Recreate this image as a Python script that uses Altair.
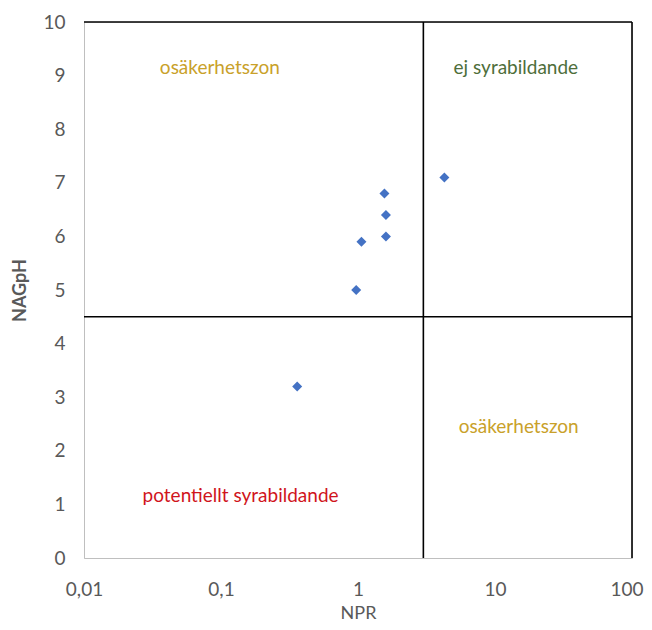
import altair as alt
import pandas as pd

# Data points
npr = [4.27, 1.56, 1.60, 1.60, 1.06, 0.97, 0.36]
nagph = [7.1, 6.8, 6.4, 6.0, 5.9, 5.0, 3.2]

# Dividing / frame lines
vline_x = [3, 100]
hline_y = [4.5, 10]

# Zone annotations
ann_text = ["osäkerhetszon", "ej syrabildande", "osäkerhetszon", "potentiellt syrabildande"]
ann_x = [0.098, 14.2, 14.9, 0.139]
ann_y = [9.14, 9.14, 2.45, 1.16]
ann_color = ["#C9A12A", "#4E6E3A", "#C9A12A", "#D0141C"]

x_ticks = [0.01, 0.1, 1, 10, 100]
y_ticks = list(range(0, 11))

FONT = "Lato"
GRAY = "#595959"

pts = pd.DataFrame({"NPR": npr, "NAGpH": nagph})
vl = pd.DataFrame({"x": vline_x, "y0": [0] * len(vline_x), "y1": [10] * len(vline_x)})
hl = pd.DataFrame({"y": hline_y, "x0": [0.01] * len(hline_y), "x1": [100] * len(hline_y)})
ann = pd.DataFrame({"t": ann_text, "x": ann_x, "y": ann_y, "c": ann_color})

xscale = alt.Scale(type="log", domain=[0.01, 100], nice=False)
yscale = alt.Scale(domain=[0, 10], nice=False)

xaxis = alt.Axis(
    values=x_ticks,
    labelExpr="datum.value < 1 ? replace(toString(datum.value), '.', ',') : toString(datum.value)",
    labelAlign=alt.ExprRef(expr="datum.value >= 100 ? 'right' : 'center'"),
    labelOffset=alt.ExprRef(expr="datum.value >= 100 ? 11 : 0"),
    labelFlush=False, labelOverlap=False, labelBound=False,
    grid=False, ticks=False, labelPadding=22,
    labelFontSize=19, labelColor=GRAY, labelFont=FONT,
    domainColor="#BFBFBF", domainWidth=1,
    title="NPR", titleFont=FONT, titleFontSize=18, titleColor=GRAY,
    titleFontWeight="normal", titleBaseline="middle", titleY=55,
)
yaxis = alt.Axis(
    values=y_ticks, grid=False, ticks=False, labelPadding=19,
    labelFontSize=19, labelColor=GRAY, labelFont=FONT,
    domainColor="#BFBFBF", domainWidth=1,
    title="NAGpH", titleFont=FONT, titleFontSize=18, titleColor=GRAY,
    titleFontWeight="bold", titleBaseline="middle", titleX=-64,
)

points = alt.Chart(pts).mark_point(
    shape="diamond", filled=True, size=100, color="#4472C4", opacity=1
).encode(
    x=alt.X("NPR:Q", scale=xscale, axis=xaxis),
    y=alt.Y("NAGpH:Q", scale=yscale, axis=yaxis),
)

vrules = alt.Chart(vl).mark_rule(color="black", strokeWidth=1.6).encode(
    x=alt.X("x:Q", scale=xscale),
    y=alt.Y("y0:Q", scale=yscale),
    y2="y1:Q",
)
hrules = alt.Chart(hl).mark_rule(color="black", strokeWidth=1.6).encode(
    y=alt.Y("y:Q", scale=yscale),
    x=alt.X("x0:Q", scale=xscale),
    x2="x1:Q",
)

texts = alt.Chart(ann).mark_text(font=FONT, fontSize=19, align="center", baseline="middle").encode(
    x=alt.X("x:Q", scale=xscale),
    y=alt.Y("y:Q", scale=yscale),
    text="t:N",
    color=alt.Color("c:N", scale=None),
)

chart = alt.layer(vrules, hrules, texts, points).properties(
    width=548, height=536,
    autosize=alt.AutoSizeParams(type="none"),
    padding={"left": 76, "top": 14, "right": 12, "bottom": 64},
).configure_view(stroke=None).configure(background="white")

chart.save("out.html", embed_options={"renderer": "svg", "actions": False})
